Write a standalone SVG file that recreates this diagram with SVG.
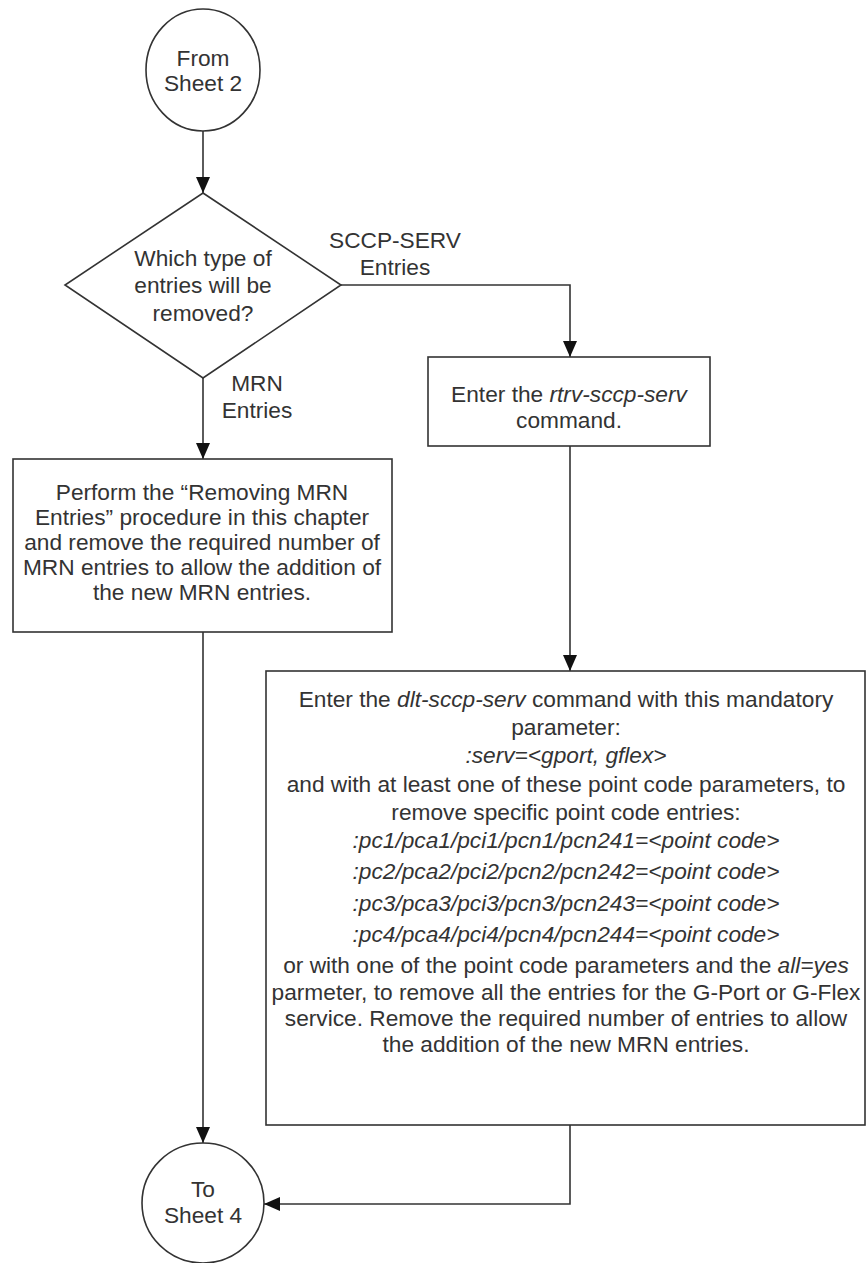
<svg xmlns="http://www.w3.org/2000/svg" width="866" height="1263" viewBox="0 0 866 1263">
<style>
.shape{fill:#fff;stroke:#333;stroke-width:1.6}
.conn{fill:none;stroke:#333;stroke-width:1.6}
text{font-family:"Liberation Sans",Arial,sans-serif;font-size:22.7px;fill:#333;text-anchor:middle}
.i{font-style:italic}
</style>
<defs>
<marker id="arr" viewBox="0 0 16 14" refX="16" refY="7" markerWidth="16" markerHeight="14" markerUnits="userSpaceOnUse" orient="auto">
<path d="M0,0 L16,7 L0,14 Z" fill="#111"/>
</marker>
</defs>
<rect width="866" height="1263" fill="#fff"/>
<g id="connectors">
<line class="conn" x1="203" y1="131" x2="203" y2="193" marker-end="url(#arr)"/>
<polyline class="conn" points="341,285 570,285 570,357" marker-end="url(#arr)"/>
<line class="conn" x1="203" y1="378" x2="203" y2="459" marker-end="url(#arr)"/>
<line class="conn" x1="570" y1="446" x2="570" y2="671" marker-end="url(#arr)"/>
<line class="conn" x1="203" y1="632" x2="203" y2="1143" marker-end="url(#arr)"/>
<polyline class="conn" points="570,1125 570,1204 264,1204" marker-end="url(#arr)"/>
<text x="395" y="248">SCCP-SERV</text>
<text x="395" y="275">Entries</text>
<text x="257" y="391">MRN</text>
<text x="257" y="418">Entries</text>
</g>
<g id="start">
<ellipse class="shape" cx="203" cy="70" rx="57" ry="61"/>
<text x="203" y="66">From</text>
<text x="203" y="91">Sheet 2</text>
</g>
<g id="decision">
<polygon class="shape" points="203,193 341,285 203,378 65,285"/>
<text x="203" y="266">Which type of</text>
<text x="203" y="293">entries will be</text>
<text x="203" y="321">removed?</text>
</g>
<g id="rtrv">
<rect class="shape" x="428" y="357" width="282" height="89"/>
<text x="569" y="402">Enter the <tspan class="i">rtrv-sccp-serv</tspan></text>
<text x="569" y="428">command.</text>
</g>
<g id="mrn">
<rect class="shape" x="13" y="459" width="379" height="173"/>
<text x="202" y="500">Perform the “Removing MRN</text>
<text x="202" y="525">Entries” procedure in this chapter</text>
<text x="202" y="550">and remove the required number of</text>
<text x="202" y="575">MRN entries to allow the addition of</text>
<text x="202" y="600">the new MRN entries.</text>
</g>
<g id="dlt">
<rect class="shape" x="266" y="671" width="599" height="454"/>
<text x="566" y="707">Enter the <tspan class="i">dlt-sccp-serv</tspan> command with this mandatory</text>
<text x="566" y="735">parameter:</text>
<text x="566" y="763" class="i">:serv=&lt;gport, gflex&gt;</text>
<text x="566" y="792">and with at least one of these point code parameters, to</text>
<text x="566" y="820">remove specific point code entries:</text>
<text x="566" y="848" class="i">:pc1/pca1/pci1/pcn1/pcn241=&lt;point code&gt;</text>
<text x="566" y="879" class="i">:pc2/pca2/pci2/pcn2/pcn242=&lt;point code&gt;</text>
<text x="566" y="911" class="i">:pc3/pca3/pci3/pcn3/pcn243=&lt;point code&gt;</text>
<text x="566" y="942" class="i">:pc4/pca4/pci4/pcn4/pcn244=&lt;point code&gt;</text>
<text x="566" y="973">or with one of the point code parameters and the <tspan class="i">all=yes</tspan></text>
<text x="566" y="1000">parmeter, to remove all the entries for the G-Port or G-Flex</text>
<text x="566" y="1026">service. Remove the required number of entries to allow</text>
<text x="566" y="1052">the addition of the new MRN entries.</text>
</g>
<g id="end">
<ellipse class="shape" cx="203" cy="1203" rx="61" ry="60"/>
<text x="203" y="1197">To</text>
<text x="203" y="1223">Sheet 4</text>
</g>
</svg>
